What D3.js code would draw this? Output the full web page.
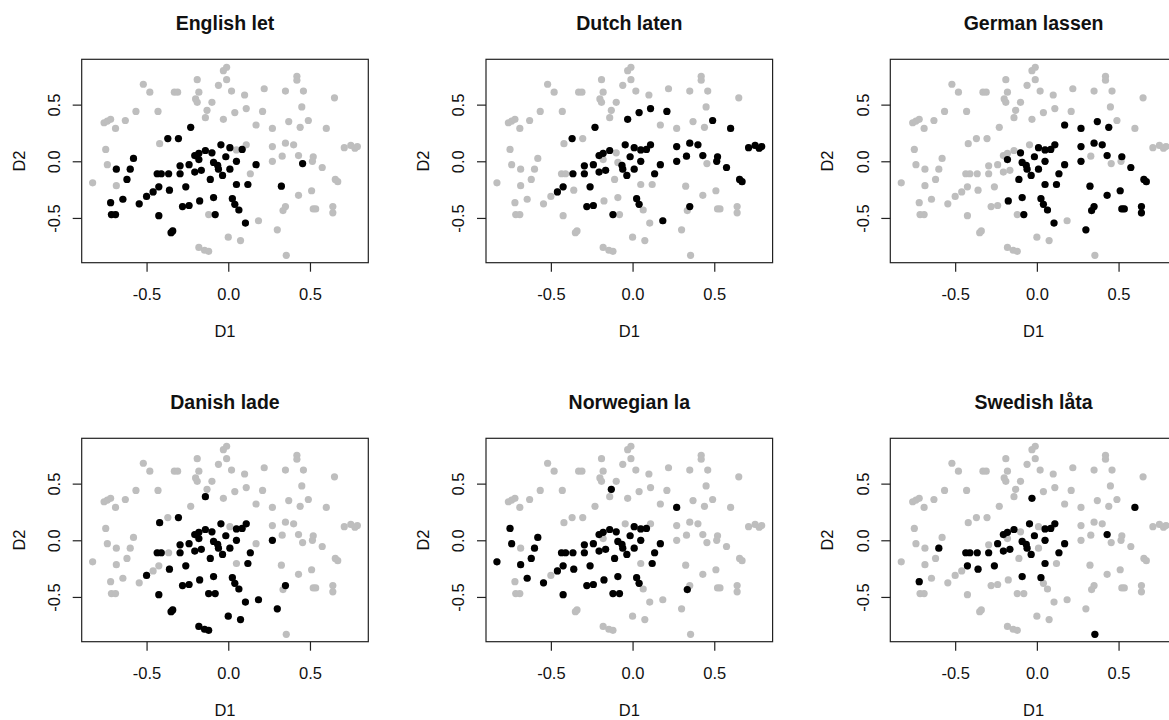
<!DOCTYPE html>
<html>
<head>
<meta charset="utf-8">
<script src="https://cdn.jsdelivr.net/npm/d3@7"></script>
<style>
  body { margin: 0; background: #fff; }
  svg text { font-family: "Liberation Sans", Arial, sans-serif; fill: #111; }
</style>
</head>
<body>
<svg id="chart" width="1169" height="720"></svg>
<script>
// panel titles, in drawing order (row by row)
var titles = ["English let", "Dutch laten", "German lassen", "Danish lade", "Norwegian la", "Swedish låta"];

var tickVals = [-0.5, 0, 0.5];

// points of the map that are grey in the English panel
var otherPoints = [
  [-0.01,0.83],[-0.03,0.80],[-0.19,0.72],[-0.01,0.72],[0.42,0.75],[0.42,0.715],[-0.52,0.68],[-0.06,0.67],
  [-0.48,0.61],[-0.33,0.61],[-0.31,0.61],[-0.18,0.61],[0.02,0.62],[0.10,0.585],[0.22,0.64],[0.35,0.62],
  [0.46,0.62],[0.65,0.56],[-0.20,0.55],[-0.19,0.52],[-0.10,0.52],[-0.13,0.45],[-0.565,0.44],[-0.43,0.44],
  [0.04,0.43],[0.11,0.465],[0.21,0.44],[0.45,0.48],[-0.14,0.385],[-0.03,0.37],[-0.76,0.34],[-0.74,0.355],
  [-0.72,0.37],[-0.69,0.29],[-0.63,0.36],[0.17,0.32],[0.27,0.29],[0.37,0.35],[0.44,0.30],[0.49,0.36],
  [0.60,0.29],[-0.42,0.155],[0.11,0.145],[0.05,0.10],[0.27,0.13],[0.35,0.16],[0.40,0.145],[-0.75,0.105],
  [0.71,0.12],[0.75,0.14],[0.775,0.115],[0.79,0.13],[0.33,0.045],[0.43,0.05],[0.52,0.04],[0.515,0.00],
  [0.27,0.00],[-0.74,-0.03],[0.575,-0.055],[0.135,-0.11],[-0.83,-0.19],[-0.685,-0.215],[0.655,-0.16],[0.67,-0.18],
  [0.43,-0.30],[0.51,-0.26],[0.35,-0.40],[0.335,-0.435],[0.52,-0.42],[0.535,-0.42],[0.64,-0.40],[0.64,-0.455],
  [-0.12,-0.47],[0.185,-0.525],[0.30,-0.605],[0.00,-0.67],[0.075,-0.70],[-0.18,-0.76],[-0.145,-0.785],[-0.12,-0.795],
  [0.355,-0.83]
];

// highlighted (black) points per language
var englishLet = [
  [-0.23,0.30],[-0.37,0.20],[-0.305,0.20],[-0.045,0.145],[0.01,0.12],[0.085,0.105],[-0.58,0.025],[-0.205,0.05],
  [-0.18,0.07],[-0.14,0.095],[-0.18,0.015],[-0.10,0.075],[-0.015,0.04],[-0.09,-0.01],[-0.065,-0.035],[0.05,0.00],
  [0.17,-0.03],[0.455,-0.02],[-0.685,-0.07],[-0.60,-0.07],[-0.295,-0.04],[-0.24,-0.03],[-0.06,-0.07],[0.01,-0.07],
  [-0.435,-0.11],[-0.41,-0.11],[-0.365,-0.11],[-0.295,-0.11],[-0.205,-0.095],[-0.165,-0.08],[-0.035,-0.125],[-0.62,-0.16],
  [-0.11,-0.16],[-0.425,-0.225],[-0.36,-0.255],[-0.26,-0.225],[0.05,-0.205],[0.12,-0.205],[0.325,-0.22],[-0.46,-0.27],
  [-0.50,-0.31],[-0.645,-0.335],[-0.72,-0.365],[-0.545,-0.375],[-0.175,-0.35],[-0.09,-0.32],[0.025,-0.33],[0.04,-0.38],
  [0.065,-0.43],[-0.28,-0.40],[-0.24,-0.39],[-0.715,-0.47],[-0.69,-0.47],[-0.425,-0.48],[-0.08,-0.47],[0.105,-0.545],
  [-0.35,-0.63],[-0.34,-0.615]
];

var dutchLaten = [
  [-0.03,0.37],[0.04,0.43],[0.11,0.465],[0.21,0.44],[-0.23,0.30],[0.49,0.36],[0.60,0.29],[-0.37,0.20],
  [-0.045,0.145],[0.01,0.12],[0.05,0.10],[0.085,0.105],[0.11,0.145],[0.27,0.13],[0.35,0.16],[0.40,0.145],
  [0.33,0.045],[0.43,0.05],[0.27,0.00],[0.52,0.04],[0.515,0.00],[0.575,-0.055],[0.71,0.12],[0.75,0.14],
  [0.775,0.115],[0.79,0.13],[0.655,-0.16],[0.67,-0.18],[0.35,-0.40],[0.185,-0.525],[-0.12,-0.47],[0.025,-0.33],
  [0.04,-0.38],[-0.28,-0.40],[-0.24,-0.39],[-0.26,-0.225],[-0.46,-0.27],[-0.425,-0.225],[-0.365,-0.11],[-0.295,-0.11],
  [-0.295,-0.04],[-0.24,-0.03],[-0.205,-0.095],[-0.165,-0.08],[-0.205,0.05],[-0.18,0.07],[-0.14,0.095],[-0.015,0.04],
  [-0.065,-0.035],[-0.06,-0.07],[0.01,-0.07],[-0.035,-0.125],[0.05,0.00],[0.17,-0.03],[0.135,-0.11]
];

var germanLassen = [
  [0.17,0.32],[0.27,0.29],[0.37,0.35],[0.44,0.30],[-0.10,0.075],[-0.015,0.04],[-0.18,0.015],[-0.09,-0.01],
  [-0.065,-0.035],[-0.06,-0.07],[0.01,-0.07],[-0.035,-0.125],[-0.11,-0.16],[0.01,0.12],[0.05,0.10],[0.085,0.105],
  [0.11,0.145],[0.05,0.00],[0.17,-0.03],[0.27,0.13],[0.35,0.16],[0.40,0.145],[0.27,0.00],[0.43,0.05],
  [0.52,0.04],[0.575,-0.055],[0.05,-0.205],[0.12,-0.205],[0.135,-0.11],[0.325,-0.22],[0.43,-0.30],[0.51,-0.26],
  [-0.09,-0.32],[-0.175,-0.35],[0.025,-0.33],[0.04,-0.38],[0.065,-0.43],[0.35,-0.40],[0.335,-0.435],[0.52,-0.42],
  [0.535,-0.42],[0.64,-0.40],[0.64,-0.455],[0.655,-0.16],[0.67,-0.18],[-0.08,-0.47],[0.105,-0.545],[0.30,-0.605]
];

var danishLade = [
  [-0.14,0.385],[-0.42,0.155],[-0.305,0.20],[-0.045,0.145],[0.05,0.10],[0.085,0.105],[0.11,0.145],[0.27,0.00],
  [-0.205,0.05],[-0.18,0.07],[-0.14,0.095],[-0.18,0.015],[-0.10,0.075],[-0.015,0.04],[-0.09,-0.01],[-0.065,-0.035],
  [0.05,0.00],[-0.295,-0.04],[-0.24,-0.03],[-0.06,-0.07],[0.01,-0.07],[-0.435,-0.11],[-0.41,-0.11],[-0.295,-0.11],
  [-0.205,-0.095],[-0.165,-0.08],[-0.035,-0.125],[-0.11,-0.16],[0.135,-0.11],[0.12,-0.205],[-0.36,-0.255],[-0.26,-0.225],
  [-0.50,-0.31],[-0.175,-0.35],[-0.09,-0.32],[0.025,-0.33],[0.04,-0.38],[0.065,-0.43],[-0.28,-0.40],[-0.24,-0.39],
  [0.35,-0.40],[-0.425,-0.48],[-0.12,-0.47],[-0.08,-0.47],[0.105,-0.545],[0.185,-0.525],[0.30,-0.605],[-0.35,-0.63],
  [-0.34,-0.615],[0.00,-0.67],[0.075,-0.70],[-0.18,-0.76],[-0.145,-0.785],[-0.12,-0.795]
];

var norwegianLa = [
  [-0.13,0.45],[0.27,0.29],[-0.75,0.105],[-0.74,-0.03],[-0.58,0.025],[-0.60,-0.07],[-0.62,-0.16],[-0.685,-0.215],
  [-0.83,-0.19],[-0.645,-0.335],[-0.545,-0.375],[-0.46,-0.27],[-0.425,-0.225],[-0.425,-0.48],[-0.435,-0.11],[-0.41,-0.11],
  [-0.365,-0.11],[-0.295,-0.11],[-0.36,-0.255],[-0.26,-0.225],[-0.295,-0.04],[-0.24,-0.03],[-0.205,-0.095],[-0.165,-0.08],
  [-0.205,0.05],[-0.18,0.07],[-0.14,0.095],[-0.10,0.075],[-0.015,0.04],[-0.09,-0.01],[-0.065,-0.035],[-0.06,-0.07],
  [0.01,-0.07],[-0.035,-0.125],[-0.11,-0.16],[-0.09,-0.32],[-0.175,-0.35],[0.025,-0.33],[0.04,-0.38],[-0.28,-0.40],
  [-0.24,-0.39],[-0.12,-0.47],[-0.08,-0.47],[0.01,0.12],[0.05,0.10],[0.085,0.105],[0.05,0.00],[0.17,-0.03],
  [0.135,-0.11],[0.12,-0.205],[0.335,-0.435]
];

var swedishLata = [
  [-0.03,0.37],[0.60,0.29],[-0.045,0.145],[0.05,0.10],[0.085,0.105],[0.11,0.145],[-0.205,0.05],[-0.18,0.07],
  [-0.14,0.095],[-0.015,0.04],[-0.09,-0.01],[-0.065,-0.035],[-0.06,-0.07],[0.05,0.00],[0.17,-0.03],[0.43,0.05],
  [-0.60,-0.07],[-0.24,-0.03],[-0.205,-0.095],[-0.165,-0.08],[-0.035,-0.125],[0.135,-0.11],[-0.435,-0.11],[-0.41,-0.11],
  [-0.365,-0.11],[-0.295,-0.11],[-0.425,-0.225],[-0.36,-0.255],[-0.26,-0.225],[0.05,-0.205],[-0.09,-0.32],[0.025,-0.33],
  [-0.72,-0.365],[0.355,-0.83]
];

// whole cloud = grey ones + the English black ones
var cloud = otherPoints.concat(englishLet);
var highlights = [englishLet, dutchLaten, germanLassen, danishLade, norwegianLa, swedishLata];

var svg = d3.select("#chart");

var W = 286.6, H = 203.4;
var colX = [81.7, 486, 890.3];
var rowY = [59.3, 438.3];

var x = d3.scaleLinear().domain([-0.897, 0.857]).range([0, W]);
var y = d3.scaleLinear().domain([-0.895, 0.9]).range([H, 0]);

var fmt = function(d) { return d.toFixed(1); };

titles.forEach(function(title, i) {
  var g = svg.append("g")
    .attr("transform", "translate(" + colX[i % 3] + "," + rowY[Math.floor(i / 3)] + ")");

  // points: all grey, then this word's points in black
  g.selectAll("circle.bg")
    .data(cloud)
    .enter().append("circle")
    .attr("class", "bg")
    .attr("cx", function(d) { return x(d[0]); })
    .attr("cy", function(d) { return y(d[1]); })
    .attr("r", 3.6)
    .attr("fill", "#bebebe");

  g.selectAll("circle.hl")
    .data(highlights[i])
    .enter().append("circle")
    .attr("class", "hl")
    .attr("cx", function(d) { return x(d[0]); })
    .attr("cy", function(d) { return y(d[1]); })
    .attr("r", 3.6)
    .attr("fill", "#000");

  // box
  g.append("rect")
    .attr("width", W).attr("height", H)
    .attr("fill", "none")
    .attr("stroke", "#222")
    .attr("stroke-width", 1.2);

  var xa = g.append("g")
    .attr("transform", "translate(0," + H + ")")
    .call(d3.axisBottom(x).tickValues(tickVals).tickFormat(fmt).tickSize(9).tickPadding(16.4));
  xa.select(".domain").remove();
  xa.selectAll("line").attr("stroke", "#222").attr("stroke-width", 1.2);
  xa.selectAll("text").style("font-size", "16.5px").attr("fill", "#111");

  var ya = g.append("g").call(d3.axisLeft(y).tickValues(tickVals).tickFormat(fmt).tickSize(9));
  ya.select(".domain").remove();
  ya.selectAll("line").attr("stroke", "#222").attr("stroke-width", 1.2);
  ya.selectAll("text")
    .attr("x", null).attr("dy", null)
    .attr("text-anchor", "middle")
    .attr("transform", "translate(-21.8,0) rotate(-90)")
    .style("font-size", "16.5px").attr("fill", "#111");

  g.append("text")
    .attr("x", W / 2).attr("y", -29.3)
    .attr("text-anchor", "middle")
    .style("font-size", "19.5px")
    .style("font-weight", "bold")
    .text(title);

  g.append("text")
    .attr("x", W / 2).attr("y", H + 74)
    .attr("text-anchor", "middle")
    .style("font-size", "16.5px")
    .text("D1");

  g.append("text")
    .attr("transform", "translate(-57," + (H / 2) + ") rotate(-90)")
    .attr("text-anchor", "middle")
    .style("font-size", "16.5px")
    .text("D2");
});
</script>
</body>
</html>
